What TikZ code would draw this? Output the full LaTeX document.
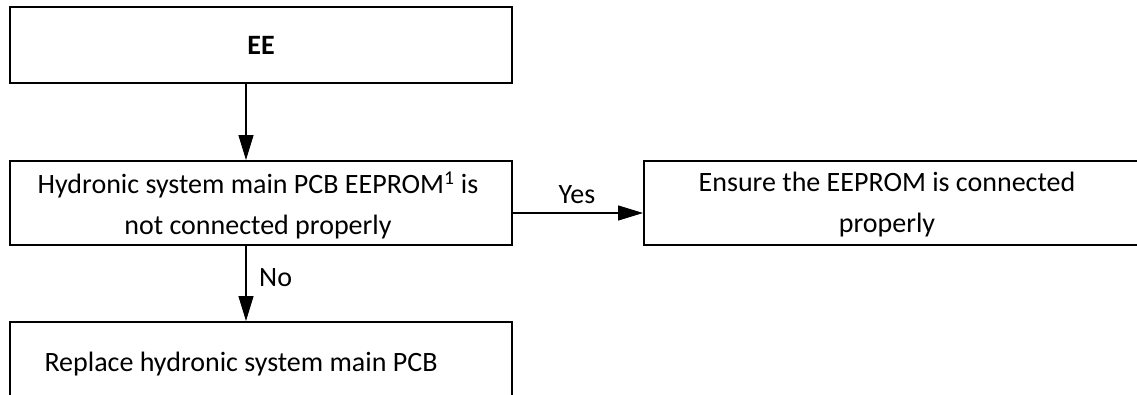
\documentclass[tikz,border=0pt]{standalone}
\usepackage{fontspec}
\setmainfont{Carlito}
\usetikzlibrary{arrows.meta}
\begin{document}
\begin{tikzpicture}[x=1pt,y=-1pt,
  box/.style={draw, line width=2pt, inner sep=0pt, align=center, font=\fontsize{28}{41}\selectfont},
  txt/.style={align=center, inner sep=0pt, font=\fontsize{28}{41}\selectfont},
  conn/.style={line width=1.3pt, -{Triangle[length=25pt,width=15pt]}},
  lbl/.style={font=\fontsize{28}{32}\selectfont, inner sep=0pt}]
\useasboundingbox (0,0) rectangle (1137,394);
\clip (0,0) rectangle (1137,394);
\node[box, minimum width=502pt, minimum height=76pt] (ee) at (261,45) {\textbf{EE}};
\node[box, minimum width=502pt, minimum height=84pt] (mid) at (261,203) {};
\node[txt] (midtext) at (258,205)
  {Hydronic system main PCB EEPROM\textsuperscript{1} is\\not connected properly};
\node[box, minimum width=560pt, minimum height=84pt] (ens) at (924,203) {};
\node[txt] (enstext) at (887,205)
  {Ensure the EEPROM is connected\\properly};
\node[box, minimum width=502pt, minimum height=84pt] (rep) at (261,364) {};
\node[txt] (reptext) at (241,364) {Replace hydronic system main PCB};
\draw[conn] ([xshift=-15pt]ee.south) -- ([xshift=-15pt]mid.north);
\draw[conn] ([yshift=-10pt]mid.east) -- ([yshift=-10pt]ens.west);
\draw[conn] ([xshift=-15pt]mid.south) -- ([xshift=-15pt]rep.north);
\node[lbl] (yes) at (577,195) {Yes};
\node[lbl, anchor=west] (no) at (259,278) {No};
\end{tikzpicture}
\end{document}
